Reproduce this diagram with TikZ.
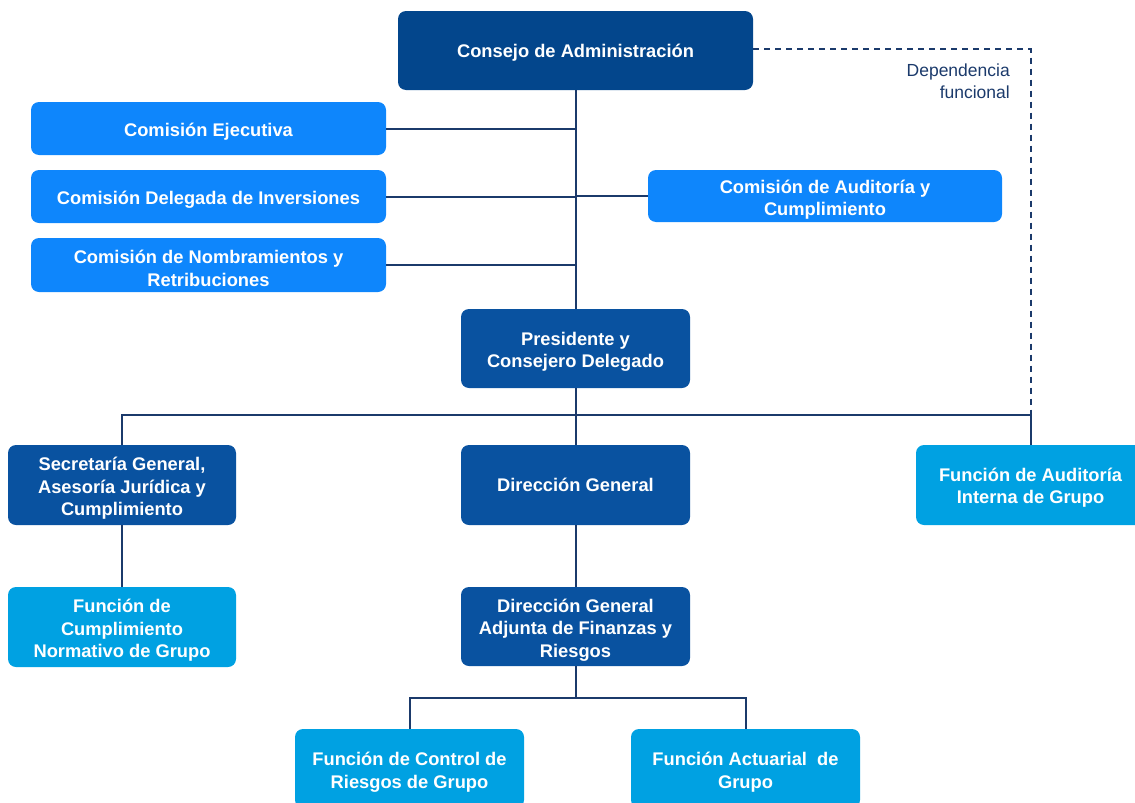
\documentclass[tikz,border=0pt]{standalone}
\usepackage{fontspec}
\setmainfont{Liberation Sans}
\definecolor{cdark}{HTML}{03468C}
\definecolor{cmid}{HTML}{0952A0}
\definecolor{ccom}{HTML}{0E86FC}
\definecolor{cfun}{HTML}{00A1E2}
\definecolor{cline}{HTML}{1B3A6B}
\newcommand\orgbox[7][3.5pt]{%
  \node[#2, minimum width=#3, minimum height=#4] (#5) at #6 {};
  \node[boxtext] (#5-t) at ([yshift=-#1]#5.center) {#7};}
\begin{document}
\begin{tikzpicture}[x=1pt,y=-1pt,
  box/.style={rounded corners=8pt, inner sep=0pt},
  boxtext/.style={inner sep=0pt, align=center, text=white,
    font=\fontsize{18.3}{22.5}\selectfont\bfseries},
  darkbox/.style={box, fill=cdark},
  midbox/.style={box, fill=cmid},
  combox/.style={box, fill=ccom},
  funbox/.style={box, fill=cfun},
  conn/.style={draw=cline, line width=2pt},
  dep/.style={draw=cline, line width=2pt, dash pattern=on 6pt off 5pt}]
\useasboundingbox (0,0) rectangle (1135,803);
\orgbox[2.5pt]{darkbox}{355pt}{79pt}{cons}{(575.5,50.5)}{Consejo de Administración}
\orgbox{combox}{355pt}{53pt}{ce}{(208.5,128.5)}{Comisión Ejecutiva}
\orgbox{combox}{355pt}{53pt}{cd}{(208.5,196.5)}{Comisión Delegada de Inversiones}
\orgbox{combox}{355pt}{54pt}{cn}{(208.5,265)}{Comisión de Nombramientos y\\Retribuciones}
\orgbox{combox}{354pt}{52pt}{ca}{(825,196)}{Comisión de Auditoría y\\Cumplimiento}
\orgbox{midbox}{229pt}{79pt}{pres}{(575.5,348.5)}{Presidente y\\Consejero Delegado}
\orgbox{midbox}{228pt}{80pt}{sec}{(122,485)}{Secretaría General,\\Asesoría Jurídica y\\Cumplimiento}
\orgbox[0pt]{midbox}{229pt}{80pt}{dg}{(575.5,485)}{Dirección General}
\orgbox[2.5pt]{funbox}{229pt}{80pt}{fai}{(1030.5,485)}{Función de Auditoría\\Interna de Grupo}
\orgbox{funbox}{228pt}{80pt}{fcn}{(122,627)}{Función de\\Cumplimiento\\Normativo de Grupo}
\orgbox{midbox}{229pt}{79pt}{dga}{(575.5,626.5)}{Dirección General\\Adjunta de Finanzas y\\Riesgos}
\orgbox{funbox}{229pt}{79pt}{fcr}{(409.5,768.5)}{Función de Control de\\Riesgos de Grupo}
\orgbox{funbox}{229pt}{79pt}{fa}{(745.5,768.5)}{Función Actuarial~ de\\Grupo}
\node[anchor=east, align=right, text=cline, inner sep=0pt,
  font=\fontsize{17.5}{22}\selectfont] (deplbl) at (1010,81.5) {Dependencia\\funcional};
\coordinate (bus) at (575.5,415);
\coordinate (bus2) at (575.5,698);
% connectors
\draw[conn] (cons.south) -- (pres.north);
\draw[conn] (ce.east) -- (ce.east -| cons.south);
\draw[conn] (cd.east) -- (cd.east -| cons.south);
\draw[conn] (cn.east) -- (cn.east -| cons.south);
\draw[conn] (ca.west) -- (ca.west -| cons.south);
\draw[conn] (pres.south) -- (dg.north);
\draw[conn] (sec.north) |- (bus) -| (fai.north);
\draw[conn] (sec.south) -- (fcn.north);
\draw[conn] (dg.south) -- (dga.north);
\draw[conn] (dga.south) -- (bus2);
\draw[conn] (fcr.north) |- (bus2) -| (fa.north);
\draw[dep] (cons.east |- 0,49) -| (bus -| fai.north);
\end{tikzpicture}
\end{document}
